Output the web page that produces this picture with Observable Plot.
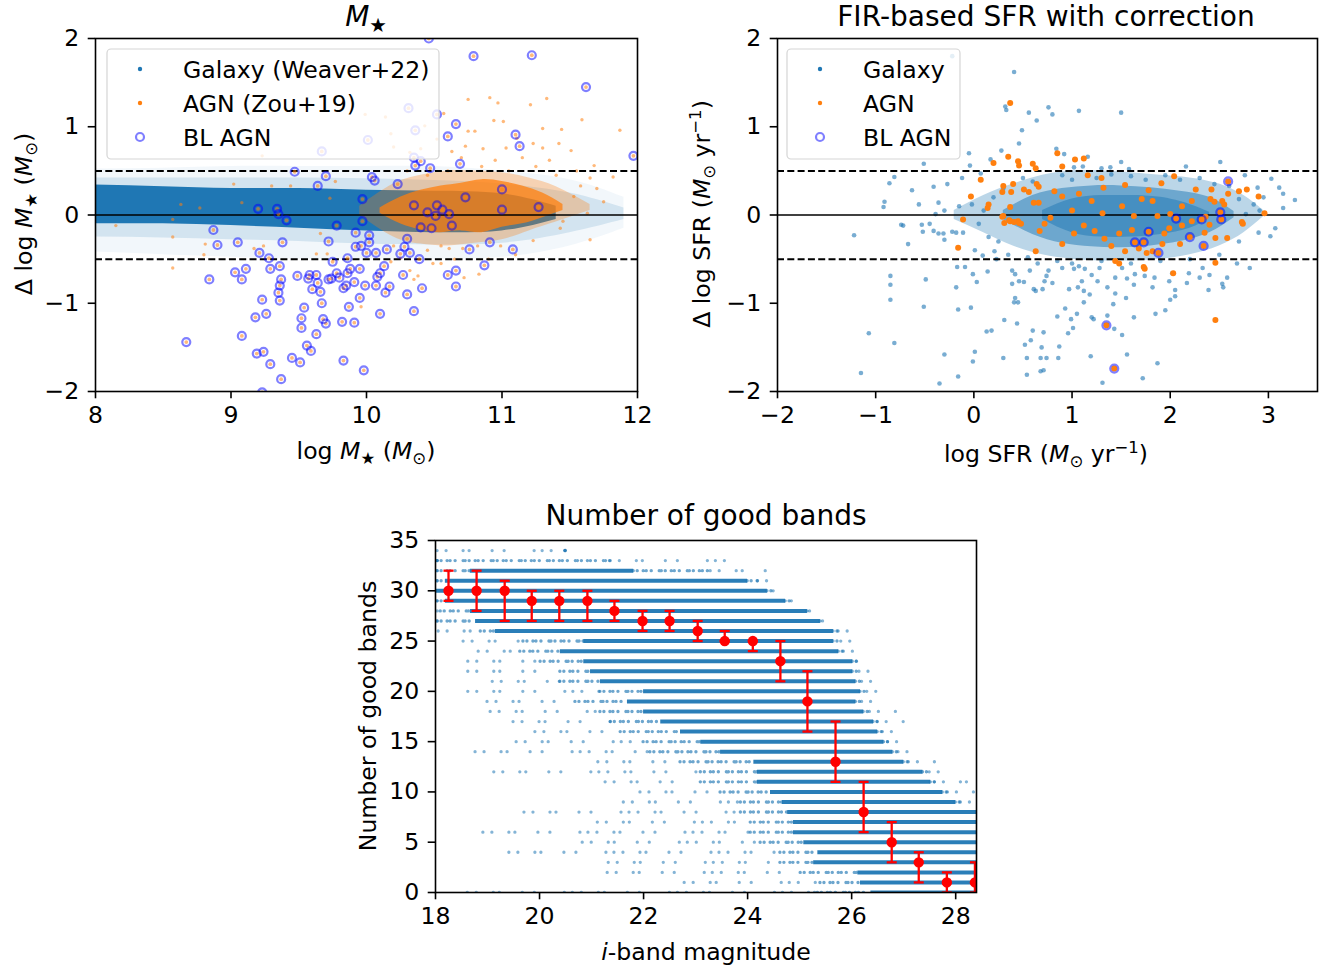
<!DOCTYPE html>
<html><head><meta charset="utf-8">
<script src="https://cdn.jsdelivr.net/npm/d3@7"></script>
<script src="https://cdn.jsdelivr.net/npm/@observablehq/plot@0.6"></script>
<style>
body{margin:0;background:#fff;}
#fig{position:relative;width:1332px;height:967px;overflow:hidden;background:#fff;}
</style></head><body><div id="fig"></div>
<script>
const BLUE = "#1f77b4", ORANGE = "#ff7f0e", FONT = "DejaVu Sans";

// ---------- Panel 1: M* ----------
const mstarTicksX = [8, 9, 10, 11, 12];
const dyTicks = [-2, -1, 0, 1, 2];
const galBandX   = [8, 8.5, 9, 9.5, 10, 10.5, 11, 11.5, 11.9];
const galHaloLo  = [-0.42, -0.45, -0.48, -0.5, -0.5, -0.5, -0.48, -0.35, -0.15];
const galHaloHi  = [0.52, 0.53, 0.55, 0.55, 0.55, 0.55, 0.5, 0.4, 0.2];
const galMidLo   = [-0.25, -0.26, -0.28, -0.3, -0.33, -0.34, -0.32, -0.2, -0.05];
const galMidHi   = [0.42, 0.42, 0.42, 0.42, 0.41, 0.39, 0.35, 0.25, 0.08];
const galCoreX   = [8, 8.5, 9, 9.5, 10, 10.5, 11, 11.4];
const galCoreLo  = [-0.1, -0.1, -0.12, -0.15, -0.18, -0.2, -0.18, -0.05];
const galCoreHi  = [0.34, 0.32, 0.3, 0.3, 0.28, 0.27, 0.24, 0.1];
const agnBandX   = [9.95, 10.2, 10.4, 10.6, 10.8, 11.0, 11.2, 11.4, 11.65];
const agnOuterLo = [0.0, -0.25, -0.33, -0.35, -0.32, -0.28, -0.18, -0.08, 0.05];
const agnOuterHi = [0.1, 0.35, 0.45, 0.5, 0.5, 0.48, 0.42, 0.32, 0.12];
const agnCoreX   = [10.1, 10.25, 10.4, 10.55, 10.7, 10.85, 11.0, 11.15, 11.3, 11.45];
const agnCoreLo  = [0.02, -0.1, -0.17, -0.2, -0.18, -0.2, -0.14, -0.1, -0.03, 0.05];
const agnCoreHi  = [0.08, 0.2, 0.28, 0.33, 0.36, 0.4, 0.38, 0.33, 0.25, 0.12];
const agnMstar = [[10.75,1.31],[10.91,1.33],[10.97,1.27],[11.21,1.25],[11.33,1.32],[10.14,1.11],[9.99,1.14],[10.57,1.15],[10.94,1.07],[11.01,1.06],[11.59,1.08],[11.87,0.96],[11.44,0.97],[11.30,0.98],[10.75,0.95],[10.80,0.95],[10.18,0.92],[10.43,1.01],[10.20,0.77],[10.32,0.71],[10.52,0.86],[10.63,0.72],[10.73,0.78],[10.86,0.75],[11.03,0.76],[11.11,0.87],[11.23,0.81],[11.30,0.76],[11.42,0.81],[11.51,0.73],[11.68,0.56],[11.82,0.43],[11.65,0.42],[11.58,0.33],[11.53,0.21],[11.63,0.02],[8.57,-0.60],[8.15,-0.12],[8.57,-0.25],[8.81,-0.33],[8.80,-0.45],[9.17,-0.38],[9.24,-0.35],[9.63,-0.44],[9.71,-0.44],[9.66,-0.21],[10.32,-0.63],[10.38,-0.69],[10.35,-0.73],[10.18,-0.53],[10.49,-0.55],[10.55,-0.55],[10.72,-0.71],[10.83,-0.67],[11.23,-0.29],[11.65,-0.28],[10.25,-0.49],[9.96,-1.04],[10.55,-0.35],[10.61,-0.38],[10.71,-0.38],[10.82,-0.35],[10.99,-0.35],[11.43,-0.15],[11.45,-0.07],[8.63,0.12],[8.77,0.08],[8.57,-0.05],[9.02,0.35],[9.23,0.67],[9.30,0.33],[9.44,0.33],[9.08,0.14],[9.73,0.19],[9.77,0.38],[10.45,0.45],[10.6,0.5],[10.85,0.55],[11.05,0.5],[11.25,0.55],[11.4,0.45],[11.55,0.5],[10.3,0.5],[10.95,0.62],[11.15,0.65],[10.7,0.65],[10.4,0.75],[11.35,0.62],[11.7,0.3],[11.75,0.15],[10.9,-0.5],[10.65,-0.5],[11.1,-0.45],[10.2,-0.35],[10.45,-0.4]];
const blMstar = [[9.67,0.72],[9.47,0.49],[9.70,0.44],[9.64,0.33],[9.97,0.18],[9.20,0.07],[9.34,0.07],[9.35,0.01],[9.41,-0.06],[9.78,-0.12],[9.97,-0.07],[10.01,0.85],[10.79,1.80],[11.22,1.81],[11.62,1.45],[10.31,1.21],[10.52,1.14],[10.66,1.03],[10.36,0.96],[10.60,0.89],[11.10,0.91],[11.13,0.78],[10.35,0.65],[10.36,0.56],[10.40,0.61],[10.47,0.53],[10.69,0.58],[11.97,0.67],[10.04,0.43],[10.06,0.39],[10.23,0.35],[11.00,0.29],[10.73,0.20],[11.27,0.09],[10.35,0.11],[10.52,0.11],[10.56,0.06],[10.45,0.03],[10.51,-0.01],[10.61,0.01],[11.00,0.06],[10.63,-0.12],[10.40,-0.14],[10.48,-0.15],[8.87,-0.17],[8.90,-0.34],[9.05,-0.31],[9.38,-0.31],[9.72,-0.30],[9.92,-0.20],[10.02,-0.23],[9.92,-0.36],[9.96,-0.35],[10.00,-0.43],[9.21,-0.43],[9.28,-0.49],[9.75,-0.53],[9.86,-0.49],[9.03,-0.65],[9.11,-0.61],[9.29,-0.61],[9.36,-0.58],[8.84,-0.73],[9.08,-0.73],[9.37,-0.73],[9.36,-0.80],[9.35,-0.88],[9.36,-0.97],[9.23,-0.96],[9.49,-0.69],[9.58,-0.68],[9.63,-0.68],[9.57,-0.72],[9.64,-0.77],[9.60,-0.84],[9.66,-0.87],[9.67,-1.00],[9.54,-1.05],[9.72,-0.73],[9.74,-0.72],[9.78,-0.66],[9.80,-0.71],[9.88,-0.61],[9.95,-0.61],[9.86,-0.66],[9.91,-0.76],[9.85,-0.80],[9.83,-0.83],[9.99,-0.80],[9.95,-0.94],[9.87,-1.04],[9.18,-1.16],[9.26,-1.12],[9.52,-1.17],[9.52,-1.28],[9.68,-1.18],[9.70,-1.23],[9.82,-1.21],[9.91,-1.22],[9.63,-1.35],[9.08,-1.37],[8.67,-1.44],[9.56,-1.48],[9.59,-1.54],[9.19,-1.57],[9.24,-1.55],[9.29,-1.69],[9.45,-1.62],[9.51,-1.67],[9.83,-1.65],[9.98,-1.76],[9.37,-1.86],[9.23,-2.01],[10.02,-0.31],[10.07,-0.43],[10.15,-0.39],[10.30,-0.27],[10.28,-0.36],[10.32,-0.43],[10.25,-0.44],[10.39,-0.50],[10.76,-0.39],[10.91,-0.31],[11.08,-0.39],[10.87,-0.57],[10.60,-0.68],[10.66,-0.63],[10.66,-0.81],[10.13,-0.58],[10.10,-0.66],[10.08,-0.70],[10.27,-0.68],[10.07,-0.80],[10.17,-0.81],[10.14,-0.88],[10.30,-0.90],[10.41,-0.83],[10.10,-1.12],[10.35,-1.09],[10.46,2.0]];

// ---------- Panel 2: SFR ----------
const sfrTicksX = [-2, -1, 0, 1, 2, 3];
const sfrOuterX  = [-0.2, 0.1, 0.4, 0.7, 1.0, 1.3, 1.6, 1.9, 2.2, 2.5, 2.75, 2.95];
const sfrOuterLo = [-0.05, -0.2, -0.35, -0.45, -0.5, -0.52, -0.52, -0.5, -0.45, -0.35, -0.2, -0.02];
const sfrOuterHi = [0.05, 0.22, 0.35, 0.45, 0.5, 0.5, 0.48, 0.45, 0.42, 0.35, 0.22, 0.05];
const sfrInnerX  = [0.3, 0.6, 0.9, 1.2, 1.5, 1.8, 2.1, 2.4, 2.65];
const sfrInnerLo = [-0.05, -0.22, -0.32, -0.36, -0.37, -0.35, -0.3, -0.2, -0.03];
const sfrInnerHi = [0.05, 0.22, 0.3, 0.33, 0.33, 0.31, 0.27, 0.2, 0.04];
const sfrCoreX   = [0.7, 1.0, 1.3, 1.6, 1.9, 2.2, 2.4];
const sfrCoreLo  = [-0.05, -0.2, -0.25, -0.25, -0.22, -0.15, -0.03];
const sfrCoreHi  = [0.05, 0.18, 0.22, 0.22, 0.2, 0.12, 0.03];
const galSfr = [[-0.22,1.80],[0.41,1.62],[0.32,1.23],[0.33,1.19],[0.56,1.16],[0.64,1.07],[0.76,1.22],[0.49,0.96],[0.46,0.81],[0.28,0.73],[-0.05,0.70],[0.17,0.63],[-0.51,0.58],[-0.04,0.56],[-0.12,0.42],[0.07,0.47],[-0.81,0.43],[-0.86,0.36],[-0.63,0.28],[-0.41,0.32],[-0.27,0.35],[-0.91,0.15],[-0.92,0.09],[-0.56,0.12],[-0.36,0.14],[-0.39,0.01],[-0.74,-0.11],[-0.53,-0.11],[-0.45,-0.10],[-0.30,0.05],[-0.15,0.10],[-0.02,0.12],[0.80,1.14],[1.07,1.18],[1.50,1.16],[0.84,0.75],[0.92,0.69],[1.16,0.66],[1.50,0.60],[1.02,0.54],[1.11,0.55],[1.30,0.53],[1.39,0.54],[1.58,0.52],[2.16,0.55],[2.51,0.60],[2.76,0.45],[3.03,0.41],[3.11,0.31],[3.15,0.24],[3.27,0.17],[3.15,0.08],[3.07,-0.15],[2.89,0.31],[2.91,0.05],[2.77,0.01],[2.73,-0.10],[-1.22,-0.23],[-0.72,-0.12],[-0.67,-0.33],[-0.52,-0.19],[-0.41,-0.18],[-0.36,-0.21],[-0.31,-0.21],[-0.30,-0.28],[-0.22,-0.19],[-0.18,-0.20],[-0.11,-0.20],[-0.17,-0.59],[-0.09,-0.59],[-0.01,-0.67],[0.03,-0.76],[0.14,-0.64],[-0.49,-0.73],[-0.85,-0.69],[-0.85,-0.79],[-0.85,-0.96],[-0.18,-0.82],[-0.51,-1.04],[-0.16,-1.07],[-0.03,-1.05],[-1.07,-1.34],[-0.81,-1.45],[-0.30,-1.58],[-1.15,-1.79],[-0.35,-1.91],[-0.16,-1.83],[-0.01,-1.66],[0.01,-1.55],[0.13,-1.32],[0.18,-1.31],[0.31,-1.19],[0.44,-1.23],[0.60,-1.31],[0.71,-1.33],[0.52,-1.47],[0.58,-1.42],[0.30,-1.62],[0.54,-1.62],[0.68,-1.62],[0.54,-1.81],[0.68,-1.77],[0.39,-0.63],[0.42,-0.67],[0.46,-0.75],[0.51,-0.76],[0.39,-0.78],[0.42,-0.94],[0.45,-0.99],[0.41,-0.99],[0.61,-0.84],[0.63,-0.86],[0.70,-0.84],[0.57,-0.63],[0.72,-0.75],[0.76,-0.63],[0.23,-0.50],[0.09,-0.46],[0.01,-0.40],[0.21,-0.41],[0.85,-1.15],[0.93,-1.06],[0.99,-1.18],[1.05,-1.12],[1.12,-0.99],[1.20,-1.16],[1.22,-1.18],[1.18,-0.90],[1.10,-0.75],[1.06,-0.82],[0.97,-0.84],[1.12,-0.86],[1.36,-0.82],[1.44,-0.89],[1.55,-0.94],[1.63,-0.79],[1.74,-0.69],[1.82,-0.82],[2.00,-0.96],[2.05,-0.85],[2.05,-0.92],[2.17,-0.77],[2.39,-0.85],[2.53,-0.78],[2.54,-0.82],[2.58,-0.71],[2.81,-0.60],[2.68,-0.55],[0.87,-1.49],[0.86,-1.62],[0.96,-1.34],[1.01,-1.28],[1.19,-1.60],[1.31,-1.90],[1.43,-1.29],[1.51,-1.36],[1.56,-1.58],[1.63,-1.16],[1.72,-1.85],[1.87,-1.68],[1.85,-1.12],[1.95,-1.08],[1.42,-1.01],[1.36,-1.14],[0.71,-1.76],[0.74,-1.62],[0.69,-1.50],[1.56,-0.72],[1.44,-0.71],[1.26,-0.75],[1.20,-0.68],[0.80,-0.77],[0.74,-0.69],[0.90,-0.60],[1.02,-0.61],[1.13,-0.61],[1.07,-0.58],[1.28,-0.60],[1.51,-0.60],[1.64,-0.67],[1.84,-0.71],[2.02,-0.66],[2.19,-0.66],[2.30,-0.71],[2.40,-0.68],[2.33,-0.60],[1.99,-0.75],[3.02,-0.24],[0.9,0.45],[1.0,0.4],[1.25,0.42],[1.4,0.46],[1.6,0.44],[1.75,0.4],[1.95,0.45],[2.1,0.4],[2.3,0.42],[2.45,0.35],[2.6,0.33],[2.7,0.18],[2.85,0.12],[0.5,0.42],[0.6,0.38],[0.3,0.3],[0.2,0.2],[0.1,0.05],[0.05,-0.1],[0.15,-0.25],[0.25,-0.3],[0.35,-0.45],[0.55,-0.48],[0.65,-0.55],[0.85,-0.52],[1.0,-0.55],[1.3,-0.52],[1.6,-0.55],[1.9,-0.52],[2.2,-0.5],[2.5,-0.45],[2.7,-0.3],[2.9,-0.2],[2.95,0.2]];
const agnSfr = [[0.37,1.27],[0.35,0.66],[0.20,0.59],[0.45,0.61],[0.46,0.56],[0.60,0.58],[0.63,0.53],[0.07,0.40],[0.30,0.33],[0.40,0.35],[0.64,0.35],[0.66,0.32],[-0.03,0.21],[0.29,0.26],[0.38,0.26],[0.51,0.29],[0.56,0.26],[0.15,0.12],[0.14,0.08],[0.37,0.09],[0.61,0.14],[0.66,0.14],[0.30,-0.01],[-0.11,-0.05],[0.37,-0.07],[0.45,-0.07],[0.48,-0.10],[0.31,-0.09],[0.85,0.70],[1.03,0.63],[1.12,0.64],[0.90,0.55],[1.16,0.45],[1.30,0.42],[2.04,0.44],[2.26,0.29],[2.42,0.29],[2.59,0.24],[2.70,0.27],[2.78,0.29],[2.90,0.21],[2.96,0.02],[2.74,-0.10],[1.91,0.36],[1.54,0.34],[1.32,0.31],[1.78,0.28],[0.82,0.27],[1.07,0.24],[2.41,0.18],[2.45,0.15],[2.53,0.16],[2.55,0.12],[-0.16,-0.37],[0.63,-0.41],[0.67,-0.18],[0.29,-0.02],[0.36,-0.06],[0.41,-0.08],[0.46,-0.09],[0.78,-0.03],[0.72,-0.10],[2.46,-1.19],[2.03,-0.66],[2.46,-0.54],[1.73,-0.59],[1.74,-0.61],[1.48,-0.55],[1.44,-0.52],[2.73,-0.08],[2.58,-0.26],[2.46,-0.26],[2.35,-0.20],[2.40,-0.11],[2.10,-0.33],[1.94,-0.21],[1.99,-0.15],[1.82,-0.41],[1.68,-0.38],[1.54,-0.41],[1.40,-0.35],[1.33,-0.27],[1.48,-0.21],[1.23,-0.18],[1.12,-0.12],[1.02,-0.21],[0.90,-0.33],[1.61,-0.17],[1.76,-0.43],[1.92,-0.33],[2.12,-0.12],[2.22,-0.07],[2.36,-0.02],[1.87,-0.01],[2.00,0.01],[1.63,-0.01],[0.90,0.21],[1.20,0.16],[1.51,0.10],[1.71,0.18],[2.12,0.10],[1.00,0.05],[1.31,0.02],[1.82,0.16],[2.22,0.16]];
const blSfr = [[2.59,0.38],[2.06,-0.04],[2.32,-0.05],[2.51,0.03],[2.52,-0.05],[1.78,-0.19],[1.64,-0.31],[1.73,-0.31],[1.88,-0.43],[2.20,-0.25],[2.34,-0.35],[1.35,-1.25],[1.43,-1.74]];

// ---------- Panel 3: number of good bands ----------
const magTicks = [18, 20, 22, 24, 26, 28];
const nbTicks = [0, 5, 10, 15, 20, 25, 30, 35];
const bandRows    = [0,1,2,3,4,5,6,7,8,9,10,11,12,13,14,15,16,17,18,19,20,21,22,23,24,25,26,27,28,29,30,31,32,33,34];
const sparseStart = [18.62,22.79,21.31,21.33,19.42,20.83,18.92,21.12,19.71,21.62,21.94,21.27,19.13,21.13,18.77,19.56,19.92,19.50,19.06,19.00,18.63,19.10,18.63,18.63,18.83,18.54,18.06,18.04,18.04,18.04,18.00,18.04,18.04,18.04,18.04];
const midStart    = [25.35,25.40,25.02,24.63,24.63,24.25,24.06,24.06,23.87,23.87,23.48,23.10,23.10,22.71,22.13,22.00,21.56,21.37,21.17,20.69,21.17,20.40,20.40,20.02,19.63,19.69,18.87,18.04,18.10,18.04,18.00,18.04,18.04,18.04,20.50];
const denseStart  = [26.37,26.17,26.12,25.27,25.35,25.08,24.88,24.88,24.77,24.67,24.44,24.19,24.19,24.12,23.48,23.10,22.71,22.33,22.00,21.69,22.00,21.17,20.98,20.85,20.40,20.85,19.15,18.77,18.67,18.19,18.00,18.19,18.67,18.04,20.50];
const denseEnd    = [28.5,28.5,28.5,28.5,28.5,28.5,28.5,28.5,28.5,28.00,27.75,27.52,27.37,27.00,26.79,26.62,26.50,26.42,26.23,26.08,26.17,26.08,26.02,26.02,25.75,25.65,25.65,25.40,25.15,24.73,24.38,24.00,21.81,18.04,20.50];
const midEnd      = [28.5,28.5,28.5,28.5,28.5,28.5,28.5,28.5,28.5,28.10,27.85,27.60,27.50,27.10,26.90,26.70,26.60,26.50,26.35,26.20,26.30,26.20,26.15,26.10,25.85,25.80,25.75,25.45,25.20,24.85,24.50,24.20,23.29,21.37,20.50];
const sparseEnd   = [28.5,28.5,28.5,28.5,28.5,28.5,28.5,28.5,28.5,28.29,28.42,28.23,27.81,27.65,27.13,26.90,26.94,27.10,26.90,26.56,26.56,26.52,26.48,26.21,26.13,26.12,25.98,25.50,25.21,24.98,24.62,24.40,24.40,23.58,20.50];
const medMag  = [18.25,18.79,19.33,19.85,20.38,20.92,21.44,21.98,22.50,23.04,23.56,24.10,24.63,25.15,25.69,26.23,26.77,27.29,27.83,28.37];
const medN    = [30,30,30,29,29,29,28,27,27,26,25,25,23,19,13,8,5,3,1,1];
const medLo   = [29,28,27,27,27,27,27,26,26,25,25,24,21,16,11,6,3,1,0,0];
const medHi   = [32,32,31,30,30,30,29,28,28,27,26,25,25,22,17,11,7,4,2,3];

// ---------- helpers ----------
const FS = 23.6, FS_TITLE = 28, FS_SUB = 16.5;
const fmt = d3.format("d");
const P = a => a.map(d => ({x: d[0], y: d[1]}));
const B = (xs, lo, hi) => xs.map((x, i) => ({x, lo: lo[i], hi: hi[i]}));
const baseStyle = {fontFamily: FONT, fontSize: FS + "px", color: "black", background: "transparent", overflow: "visible"};
function axisMarks(xt, yt) {
  return [
    Plot.axisX({ticks: xt, tickFormat: fmt, tickSize: 7.3, tickPadding: 7, label: null, strokeWidth: 1.6, fontSize: FS}),
    Plot.axisY({ticks: yt, tickFormat: fmt, tickSize: 7.3, tickPadding: 9, label: null, strokeWidth: 1.6, fontSize: FS}),
    Plot.frame({stroke: "black", strokeWidth: 1.6})
  ];
}
const fig = document.getElementById("fig");
function place(svg, left, top) {
  svg.style.position = "absolute"; svg.style.left = left + "px"; svg.style.top = top + "px";
  fig.appendChild(svg);
}
const refLines = [
  Plot.ruleY([0], {stroke: "black", strokeWidth: 1.3}),
  Plot.ruleY([-0.5, 0.5], {stroke: "black", strokeWidth: 2, strokeDasharray: "7,3.3"})
];

// Panel 1
const p1 = Plot.plot({
  width: 660, height: 440, marginLeft: 95, marginRight: 23, marginTop: 38, marginBottom: 49,
  x: {domain: [8, 12]}, y: {domain: [-2, 2]}, style: baseStyle,
  marks: [
    Plot.areaY(B(galBandX, galHaloLo, galHaloHi), {x: "x", y1: "lo", y2: "hi", fill: BLUE, fillOpacity: 0.06, curve: "natural", clip: true}),
    Plot.areaY(B(galBandX, galMidLo, galMidHi), {x: "x", y1: "lo", y2: "hi", fill: BLUE, fillOpacity: 0.15, curve: "natural", clip: true}),
    Plot.areaY(B(galCoreX, galCoreLo, galCoreHi), {x: "x", y1: "lo", y2: "hi", fill: BLUE, fillOpacity: 1, curve: "natural", clip: true}),
    Plot.areaY(B(agnBandX, agnOuterLo, agnOuterHi), {x: "x", y1: "lo", y2: "hi", fill: ORANGE, fillOpacity: 0.3, curve: "natural", clip: true}),
    Plot.areaY(B(agnCoreX, agnCoreLo, agnCoreHi), {x: "x", y1: "lo", y2: "hi", fill: ORANGE, fillOpacity: 0.75, curve: "natural", clip: true}),
    Plot.dot(P(agnMstar), {x: "x", y: "y", r: 1.7, fill: ORANGE, fillOpacity: 0.55, stroke: null, clip: true}),
    ...refLines,
    Plot.dot(P(blMstar), {x: "x", y: "y", r: 1.9, fill: ORANGE, fillOpacity: 0.55, stroke: null, clip: true}),
    Plot.dot(P(blMstar), {x: "x", y: "y", r: 4, fill: "none", stroke: "blue", strokeOpacity: 0.5, strokeWidth: 2.2, clip: true}),
    ...axisMarks(mstarTicksX, dyTicks)
  ]
});
place(p1, 0, 0);

// Panel 2
const p2 = Plot.plot({
  width: 652, height: 440, marginLeft: 97, marginRight: 15, marginTop: 38, marginBottom: 49,
  x: {domain: [-2, 3.5]}, y: {domain: [-2, 2]}, style: baseStyle,
  marks: [
    Plot.areaY(B(sfrOuterX, sfrOuterLo, sfrOuterHi), {x: "x", y1: "lo", y2: "hi", fill: BLUE, fillOpacity: 0.3, curve: "natural", clip: true}),
    Plot.areaY(B(sfrInnerX, sfrInnerLo, sfrInnerHi), {x: "x", y1: "lo", y2: "hi", fill: BLUE, fillOpacity: 0.5, curve: "natural", clip: true}),
    Plot.areaY(B(sfrCoreX, sfrCoreLo, sfrCoreHi), {x: "x", y1: "lo", y2: "hi", fill: BLUE, fillOpacity: 0.5, curve: "natural", clip: true}),
    Plot.dot(P(galSfr), {x: "x", y: "y", r: 2.3, fill: BLUE, fillOpacity: 0.6, stroke: null, clip: true}),
    ...refLines,
    Plot.dot(P(agnSfr), {x: "x", y: "y", r: 3, fill: ORANGE, stroke: null, clip: true}),
    Plot.dot(P(blSfr), {x: "x", y: "y", r: 3, fill: ORANGE, stroke: null, clip: true}),
    Plot.dot(P(blSfr), {x: "x", y: "y", r: 4, fill: "none", stroke: "blue", strokeOpacity: 0.5, strokeWidth: 2.2, clip: true}),
    ...axisMarks(sfrTicksX, dyTicks)
  ]
});
place(p2, 680, 0);

// Panel 3
const rows = bandRows.map((n, i) => ({n, s0: sparseStart[i], m0: midStart[i], d0: denseStart[i], d1: denseEnd[i], m1: midEnd[i], s1: sparseEnd[i]}));
const med = medMag.map((x, i) => ({x, y: medN[i], lo: medLo[i], hi: medHi[i]}));
const sparseDash = "0.01,9,0.01,17,0.01,6,0.01,23,0.01,12,0.01,30,0.01,8";
const midDash = "0.01,4,0.01,6,0.01,3,0.01,5,0.01,8,0.01,2";
const capSymbol = {draw(ctx, size) { const w = Math.sqrt(size / Math.PI); ctx.moveTo(-w, 0); ctx.lineTo(w, 0); }};
const seg = (a, b, o) => Plot.ruleY(rows, {y: "n", x1: a, x2: b, stroke: BLUE, clip: true, ...o});
const p3 = Plot.plot({
  width: 670, height: 480, marginLeft: 105, marginRight: 24, marginTop: 60, marginBottom: 68,
  x: {domain: [18, 28.4]}, y: {domain: [0, 35]}, style: baseStyle,
  marks: [
    seg("s0", "m0", {strokeWidth: 3.3, strokeOpacity: 0.55, strokeLinecap: "round", strokeDasharray: sparseDash}),
    seg("m0", "d0", {strokeWidth: 3.4, strokeOpacity: 0.65, strokeLinecap: "round", strokeDasharray: midDash}),
    seg("d0", "d1", {strokeWidth: 4, strokeOpacity: 0.95}),
    seg("d1", "m1", {strokeWidth: 3.4, strokeOpacity: 0.65, strokeLinecap: "round", strokeDasharray: midDash}),
    seg("m1", "s1", {strokeWidth: 3.3, strokeOpacity: 0.55, strokeLinecap: "round", strokeDasharray: sparseDash}),
    Plot.ruleX(med, {x: "x", y1: "lo", y2: "hi", stroke: "red", strokeWidth: 2.3, clip: true}),
    Plot.dot(med, {x: "x", y: "lo", r: 5, symbol: capSymbol, stroke: "red", strokeWidth: 2.3, fill: "none", clip: true}),
    Plot.dot(med, {x: "x", y: "hi", r: 5, symbol: capSymbol, stroke: "red", strokeWidth: 2.3, fill: "none", clip: true}),
    Plot.dot(med, {x: "x", y: "y", r: 5.2, fill: "red", stroke: null, clip: true}),
    ...axisMarks(magTicks, nbTicks)
  ]
});
place(p3, 330, 480);

// ---------- overlay text & legends ----------
const ov = d3.select(fig).append("svg").attr("width", 1332).attr("height", 967)
  .style("position", "absolute").style("left", 0).style("top", 0)
  .attr("font-family", FONT).attr("font-size", FS).attr("fill", "black");
function rich(x, y, parts, rotate, size) {
  const fs = size || FS, sub = fs * 0.7;
  const t = ov.append("text").attr("x", x).attr("y", y).attr("text-anchor", "middle").attr("font-size", fs);
  if (rotate) t.attr("transform", `rotate(-90 ${x} ${y})`);
  let shift = 0;
  for (const p of parts) {
    const [s, kind] = typeof p === "string" ? [p, ""] : p;
    const ts = t.append("tspan").text(s);
    let target = 0;
    if (kind === "sub") { target = fs * 0.22; ts.attr("font-size", sub); }
    if (kind === "sup") { target = -fs * 0.4; ts.attr("font-size", sub); }
    ts.attr("dy", target - shift); shift = target;
    if (kind === "it") ts.attr("font-style", "italic");
  }
}
rich(366, 26, [["M", "it"], ["★", "sub"]], false, FS_TITLE);
rich(366, 459, ["log ", ["M", "it"], ["★", "sub"], " (", ["M", "it"], ["⊙", "sub"], ")"]);
rich(32, 214, ["Δ log ", ["M", "it"], ["★", "sub"], " (", ["M", "it"], ["⊙", "sub"], ")"], true);
rich(1046, 26, ["FIR-based SFR with correction"], false, FS_TITLE);
rich(1046, 462, ["log SFR (", ["M", "it"], ["⊙", "sub"], " yr", ["−1", "sup"], ")"]);
rich(710, 214, ["Δ log SFR (", ["M", "it"], ["⊙", "sub"], " yr", ["−1", "sup"], ")"], true);
rich(706, 525, ["Number of good bands"], false, FS_TITLE);
rich(706, 960, [["i", "it"], "-band magnitude"]);
rich(376, 716, ["Number of good bands"], true);

function legend(x0, y0, w, mx, tx, labels) {
  ov.append("rect").attr("x", x0).attr("y", y0).attr("width", w).attr("height", 110).attr("rx", 4)
    .attr("fill", "white").attr("fill-opacity", 0.8).attr("stroke", "#d5d5d5").attr("stroke-width", 1.2);
  const ys = [69, 103, 137];
  ov.append("circle").attr("cx", mx).attr("cy", ys[0]).attr("r", 2.2).attr("fill", BLUE);
  ov.append("circle").attr("cx", mx).attr("cy", ys[1]).attr("r", 2.2).attr("fill", ORANGE);
  ov.append("circle").attr("cx", mx).attr("cy", ys[2]).attr("r", 4).attr("fill", "none").attr("stroke", "blue").attr("stroke-opacity", 0.5).attr("stroke-width", 2.2);
  labels.forEach((l, i) => ov.append("text").attr("x", tx).attr("y", ys[i] + 8.5).text(l));
}
legend(107, 49, 332, 140, 183, ["Galaxy (Weaver+22)", "AGN (Zou+19)", "BL AGN"]);
legend(787, 49, 173, 820, 863, ["Galaxy", "AGN", "BL AGN"]);
</script></body></html>
